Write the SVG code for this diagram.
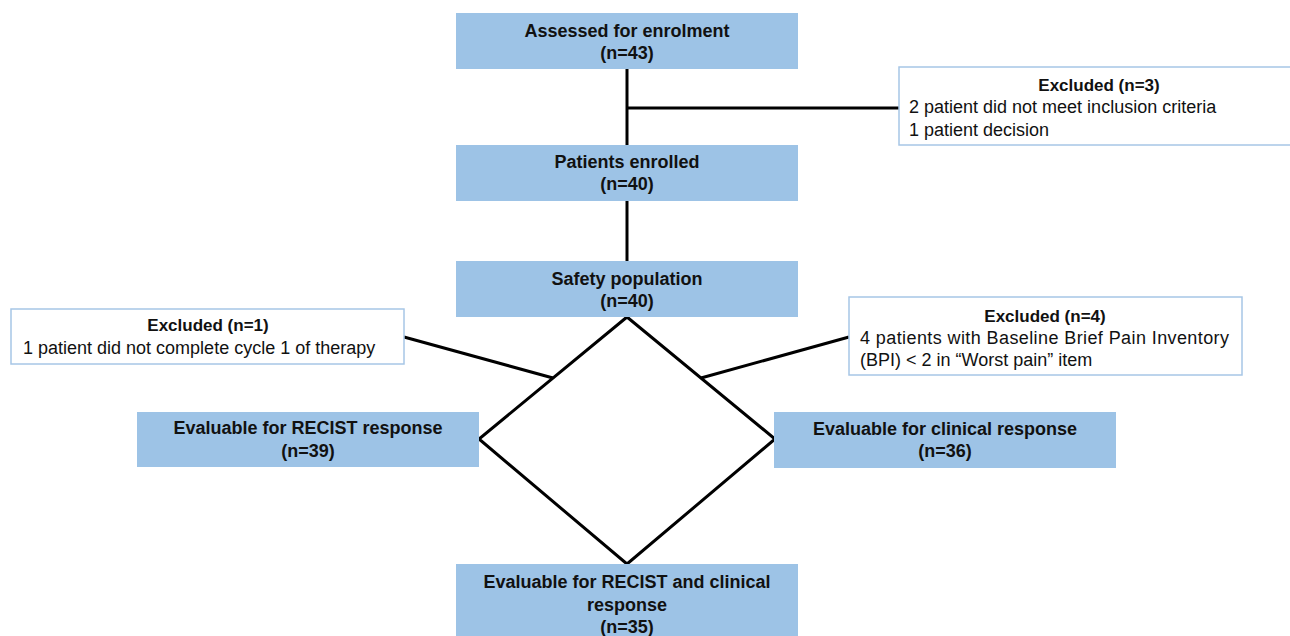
<svg xmlns="http://www.w3.org/2000/svg" width="1290" height="636" viewBox="0 0 1290 636">
<style>
.box{fill:#9DC3E6;stroke:none}
.exc{fill:#FFFFFF;stroke:#A7C6E6;stroke-width:1.5}
.t{font-family:"Liberation Sans",Arial,sans-serif;font-size:18px;fill:#111;font-weight:bold;text-anchor:middle}
.h{font-family:"Liberation Sans",Arial,sans-serif;font-size:17px;fill:#111;font-weight:bold;text-anchor:middle}
.b{font-family:"Liberation Sans",Arial,sans-serif;font-size:18px;fill:#111}
.ln{stroke:#000;stroke-width:3;fill:none}
</style>
<rect width="1290" height="636" fill="#FFFFFF"/>
<g id="connectors">
<line class="ln" x1="627" y1="69" x2="627" y2="145"/>
<line class="ln" x1="627" y1="108" x2="899" y2="108"/>
<line class="ln" x1="627" y1="201" x2="627" y2="261"/>
<polygon class="ln" points="627,317 479,439 627,564 775,439"/>
<line class="ln" x1="404" y1="337" x2="553" y2="378"/>
<line class="ln" x1="849" y1="337" x2="701" y2="378"/>
</g>
<g id="assessed">
<rect class="box" x="456" y="13" width="342" height="56"/>
<text class="t" x="627" y="37">Assessed for enrolment</text>
<text class="t" x="627" y="59">(n=43)</text>
</g>
<g id="excluded3">
<rect class="exc" x="899" y="67" width="420" height="78"/>
<text class="h" x="1099" y="91">Excluded (n=3)</text>
<text class="b" x="909" y="113">2 patient did not meet inclusion criteria</text>
<text class="b" x="909" y="136">1 patient decision</text>
</g>
<g id="enrolled">
<rect class="box" x="456" y="145" width="342" height="56"/>
<text class="t" x="627" y="168">Patients enrolled</text>
<text class="t" x="627" y="190">(n=40)</text>
</g>
<g id="safety">
<rect class="box" x="456" y="261" width="342" height="56"/>
<text class="t" x="627" y="285">Safety population</text>
<text class="t" x="627" y="307">(n=40)</text>
</g>
<g id="excluded1">
<rect class="exc" x="11" y="309" width="393" height="55"/>
<text class="h" x="208" y="331">Excluded (n=1)</text>
<text class="b" x="23" y="354">1 patient did not complete cycle 1 of therapy</text>
</g>
<g id="excluded4">
<rect class="exc" x="849" y="297" width="393" height="78"/>
<text class="h" x="1045" y="322">Excluded (n=4)</text>
<text class="b" x="860" y="344" textLength="369" lengthAdjust="spacing">4 patients with Baseline Brief Pain Inventory</text>
<text class="b" x="860" y="366">(BPI) &lt; 2 in “Worst pain” item</text>
</g>
<g id="recist">
<rect class="box" x="137" y="412" width="342" height="55"/>
<text class="t" x="308" y="434">Evaluable for RECIST response</text>
<text class="t" x="308" y="457">(n=39)</text>
</g>
<g id="clinical">
<rect class="box" x="774" y="412" width="342" height="56"/>
<text class="t" x="945" y="435">Evaluable for clinical response</text>
<text class="t" x="945" y="457">(n=36)</text>
</g>
<g id="both">
<rect class="box" x="456" y="564" width="342" height="80"/>
<text class="t" x="627" y="588">Evaluable for RECIST and clinical</text>
<text class="t" x="627" y="611">response</text>
<text class="t" x="627" y="633">(n=35)</text>
</g>
</svg>
